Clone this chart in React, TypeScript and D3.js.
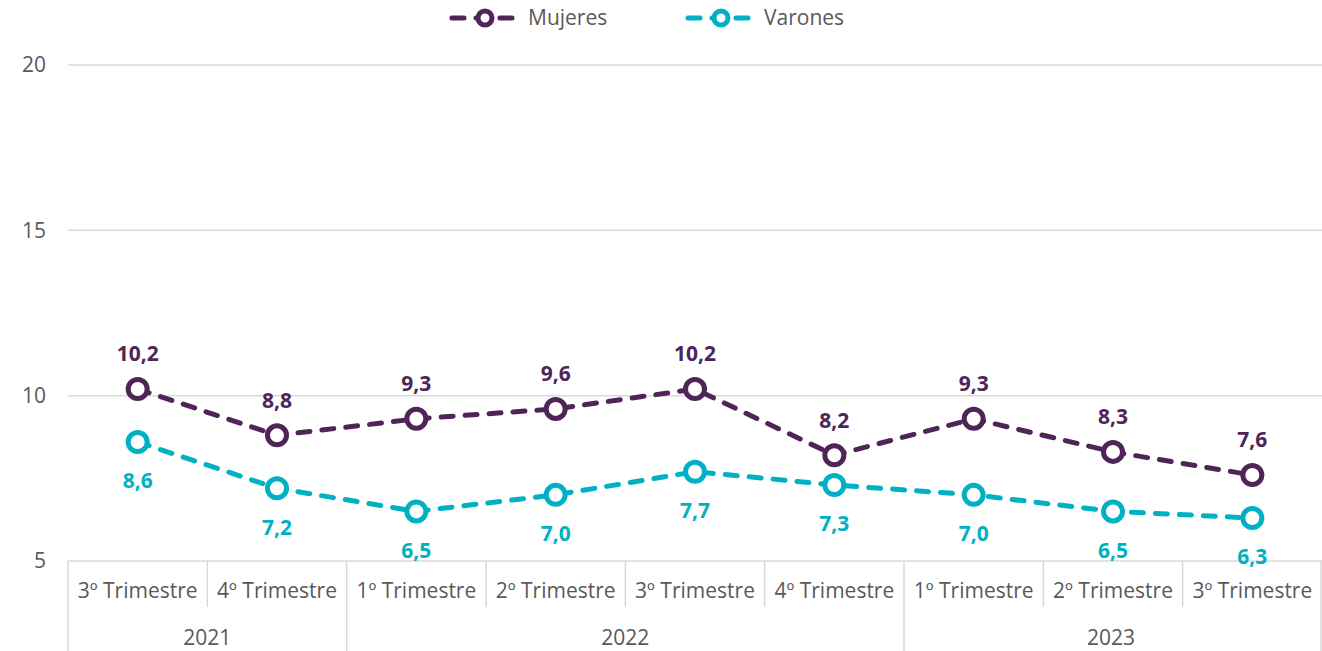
import React from "react";
import * as d3 from "d3";

const quarters = ["3º Trimestre", "4º Trimestre", "1º Trimestre", "2º Trimestre", "3º Trimestre", "4º Trimestre", "1º Trimestre", "2º Trimestre", "3º Trimestre"];
const years = [
  { label: "2021", from: 0, to: 2 },
  { label: "2022", from: 2, to: 6 },
  { label: "2023", from: 6, to: 9 },
];
const mujeres = [10.2, 8.8, 9.3, 9.6, 10.2, 8.2, 9.3, 8.3, 7.6];
const varones = [8.6, 7.2, 6.5, 7.0, 7.7, 7.3, 7.0, 6.5, 6.3];
const yTicks = [5, 10, 15, 20];

const W = 1322, H = 651;
const left = 68, right = 1322, top = 65, bottom = 561;
const purple = "#4e2556";
const teal = "#00b0c3";
const grid = "#d9d9d9";
const txt = "#595959";
const font = "'Open Sans', sans-serif";
const fs = 21;

const fmt = (v: number) => v.toFixed(1).replace(".", ",");

export default function App() {
  const x = d3.scaleBand<number>().domain(d3.range(quarters.length)).range([left, right]);
  const y = d3.scaleLinear().domain([5, 20]).range([bottom, top]);
  const cx = (i: number) => (x(i) as number) + x.bandwidth() / 2;
  const line = d3.line<number>().x((_, i) => cx(i)).y(d => y(d));

  const series = [
    { name: "Mujeres", data: mujeres, color: purple, dy: -35 },
    { name: "Varones", data: varones, color: teal, dy: 39 },
  ];
  const legendX = [452, 688];

  return (
    <svg width={W} height={H} style={{ position: "absolute", left: 0, top: 0 }} fontFamily={font}>
      {yTicks.map(t => (
        <g key={t}>
          <line x1={left} x2={right} y1={y(t)} y2={y(t)} stroke={grid} strokeWidth={1.5} />
          <text x={46} y={y(t)} dy="0.35em" textAnchor="end" fontSize={fs} fill={txt}>{t}</text>
        </g>
      ))}
      {d3.range(quarters.length + 1).map(i => {
        const xx = i < quarters.length ? (x(i) as number) : right - 1;
        const isYear = years.some(yr => yr.from === i) || i === quarters.length;
        return <line key={i} x1={xx} x2={xx} y1={bottom} y2={isYear ? H : 607} stroke={grid} strokeWidth={1.5} />;
      })}
      {quarters.map((q, i) => (
        <text key={i} x={cx(i)} y={591} dy="0.35em" textAnchor="middle" fontSize={fs} fill={txt}>{q}</text>
      ))}
      {years.map(yr => (
        <text key={yr.label} x={((x(yr.from) as number) + (yr.to < quarters.length ? (x(yr.to) as number) : right)) / 2 - (yr.to === quarters.length ? 2 : 0)} y={638} dy="0.35em" textAnchor="middle" fontSize={fs} fill={txt}>{yr.label}</text>
      ))}
      {series.map(s => (
        <g key={s.name}>
          <path d={line(s.data) || ""} fill="none" stroke={s.color} strokeWidth={5} strokeDasharray="12,12" strokeLinecap="round" />
          {s.data.map((v, i) => (
            <circle key={i} cx={cx(i)} cy={y(v)} r={9.5} fill="#fff" stroke={s.color} strokeWidth={5} />
          ))}
          {s.data.map((v, i) => (
            <text key={"l" + i} x={cx(i)} y={y(v) + s.dy} dy="0.35em" textAnchor="middle" fontSize={fs} fontWeight="bold" fill={s.color}>{fmt(v)}</text>
          ))}
        </g>
      ))}
      {series.map((s, k) => (
        <g key={"lg" + s.name} transform={`translate(${legendX[k]},18)`}>
          <line x1={0} x2={66} y1={0} y2={0} stroke={s.color} strokeWidth={5} strokeDasharray="12,12" strokeLinecap="round" />
          <circle cx={33} cy={0} r={7} fill="#fff" stroke={s.color} strokeWidth={5} />
          <text x={76} y={0} dy="0.35em" fontSize={fs} fill={txt}>{s.name}</text>
        </g>
      ))}
    </svg>
  );
}
